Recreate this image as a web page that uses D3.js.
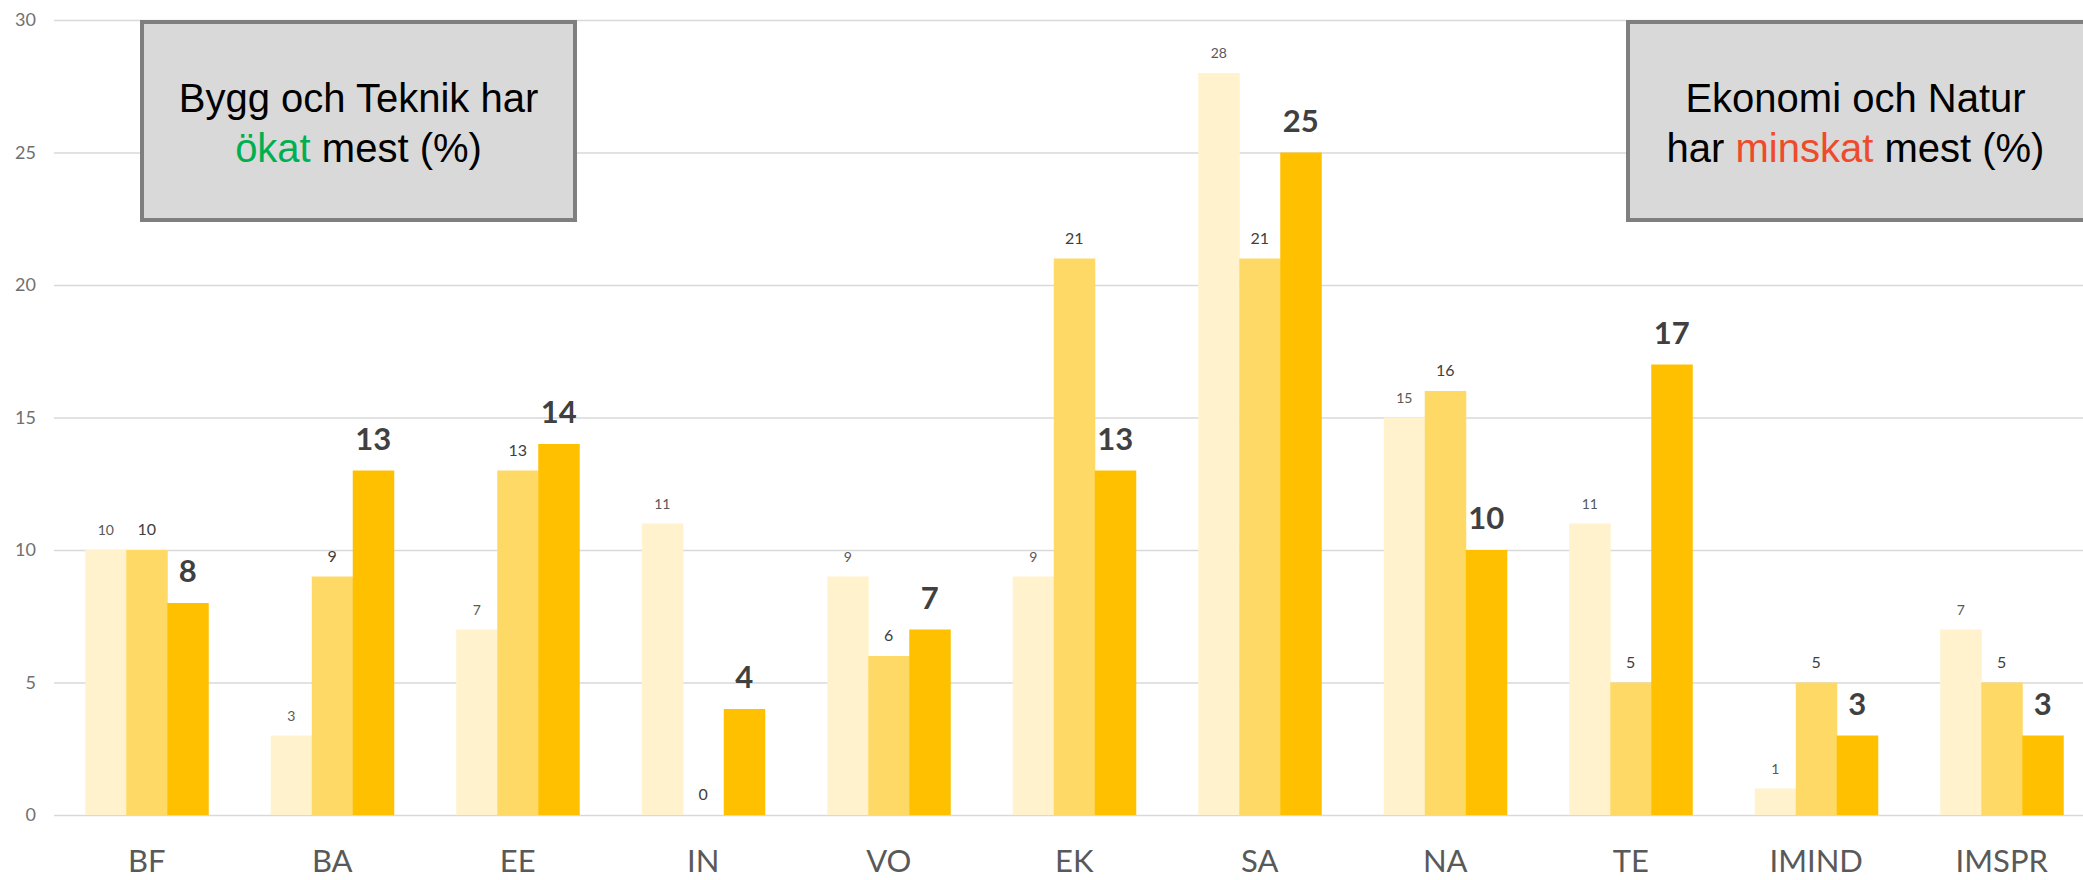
<!DOCTYPE html>
<html>
<head>
<meta charset="utf-8">
<script src="https://cdn.jsdelivr.net/npm/d3@7"></script>
<style>
  body { margin: 0; background: #fff; }
  svg { display: block; }
</style>
</head>
<body>
<div id="chart"></div>
<script>
// program codes on the x axis
const categories = ["BF", "BA", "EE", "IN", "VO", "EK", "SA", "NA", "TE", "IMIND", "IMSPR"];
// three years, lightest to darkest
const series1 = [10, 3, 7, 11, 9, 9, 28, 15, 11, 1, 7];
const series2 = [10, 9, 13, 0, 6, 21, 21, 16, 5, 5, 5];
const series3 = [8, 13, 14, 4, 7, 13, 25, 10, 17, 3, 3];
const yTicks = [0, 5, 10, 15, 20, 25, 30];

const W = 2083, H = 880;
const left = 54, step = 185.5, groupW = 123;
const colors = ["#FFF2CC", "#FFD966", "#FFC000"];

const svg = d3.select("#chart").append("svg")
    .attr("width", W)
    .attr("height", H);

const x = d3.scaleBand().domain(categories).range([left, left + step * categories.length]).padding(0);
const x1 = d3.scaleBand().domain([0, 1, 2]).range([(step - groupW) / 2, (step + groupW) / 2]).padding(0);
const y = d3.scaleLinear().domain([0, 30]).range([815, 20]);

// grid + y labels
const yAxis = svg.append("g")
    .attr("transform", "translate(" + left + ",0)")
    .call(d3.axisLeft(y).tickValues(yTicks).tickSize(-(W - left)).tickPadding(18));
yAxis.select(".domain").remove();
yAxis.selectAll(".tick line").attr("stroke", "#d9d9d9").attr("stroke-width", 1.4);
yAxis.selectAll(".tick text")
    .attr("font-family", "Lato, 'Open Sans', sans-serif")
    .attr("font-size", "18px")
    .attr("fill", "#707070");

// category labels
const xAxis = svg.append("g")
    .attr("transform", "translate(0,815)")
    .call(d3.axisBottom(x).tickSize(0).tickPadding(0));
xAxis.select(".domain").remove();
xAxis.selectAll(".tick text")
    .attr("dy", null)
    .attr("y", 57)
    .attr("font-family", "Lato, 'Open Sans', sans-serif")
    .attr("font-size", "31px")
    .attr("fill", "#595959");

const all = [series1, series2, series3];
const rows = categories.map((c, i) => ({ cat: c, vals: all.map(s => s[i]) }));

const groups = svg.selectAll(".grp")
    .data(rows)
    .enter().append("g")
    .attr("class", "grp")
    .attr("transform", d => "translate(" + x(d.cat) + ",0)");

groups.selectAll("rect")
    .data(d => d.vals)
    .enter().append("rect")
    .attr("x", (d, i) => x1(i))
    .attr("y", d => y(d))
    .attr("width", x1.bandwidth() + 0.5)
    .attr("height", d => y(0) - y(d))
    .attr("fill", (d, i) => colors[i]);

// value labels, the last year bigger and bold
const labelSize = ["14px", "16px", "31px"];
const labelFill = ["#595959", "#404040", "#404040"];
const labelGap = [15, 15, 21];
groups.selectAll("text.val")
    .data(d => d.vals)
    .enter().append("text")
    .attr("class", "val")
    .attr("x", (d, i) => x1(i) + x1.bandwidth() / 2)
    .attr("y", (d, i) => y(d) - labelGap[i])
    .attr("text-anchor", "middle")
    .attr("font-family", "Lato, 'Open Sans', sans-serif")
    .attr("font-size", (d, i) => labelSize[i])
    .attr("font-weight", (d, i) => i == 2 ? "bold" : "normal")
    .attr("fill", (d, i) => labelFill[i])
    .text(d => d);

// annotation boxes
function note(x0, x1b, line1, pre, word, post, wordColor) {
    const cx = (x0 + Math.min(x1b, W)) / 2;
    svg.append("rect")
        .attr("x", x0).attr("y", 22)
        .attr("width", x1b - x0).attr("height", 198)
        .attr("fill", "#d9d9d9")
        .attr("stroke", "#7f7f7f")
        .attr("stroke-width", 4);
    const t = svg.append("text")
        .attr("text-anchor", "middle")
        .attr("font-family", "'Liberation Sans', Arial, sans-serif")
        .attr("font-size", "40px")
        .attr("fill", "#000");
    t.append("tspan").attr("x", cx).attr("y", 112).text(line1);
    const l2 = t.append("tspan").attr("x", cx).attr("y", 162);
    if (pre) l2.append("tspan").text(pre);
    l2.append("tspan").attr("fill", wordColor).text(word);
    l2.append("tspan").text(post);
}
note(142, 575, "Bygg och Teknik har", "", "ökat", " mest (%)", "#00B050");
note(1628, 2100, "Ekonomi och Natur", "har ", "minskat", " mest (%)", "#EE4B2B");
</script>
</body>
</html>
